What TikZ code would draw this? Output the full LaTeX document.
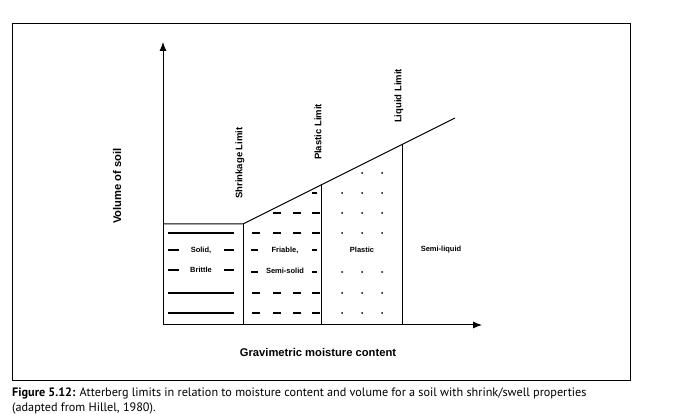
\documentclass[tikz,border=0pt]{standalone}
\usepackage{fontspec}
\usetikzlibrary{arrows.meta}
\setmainfont{Liberation Sans}
\newfontfamily\capfont{PT Sans}
\begin{document}
\begin{tikzpicture}[x=1pt,y=-1pt,
  lbl/.style={font=\bfseries\fontsize{7.5}{8}\selectfont,inner sep=1pt},
  rlbl/.style={font=\bfseries\fontsize{9.5}{10}\selectfont,inner sep=1pt,rotate=90},
  axlbl/.style={font=\bfseries\fontsize{11.2}{13}\selectfont},
  ln/.style={line width=1pt},
  arr/.style={-{Latex[length=9pt,width=7pt]}},
  dsh/.style={line width=1.1pt}]
\useasboundingbox (0,0) rectangle (694,414);
\draw[line width=1pt] (12,24) rectangle (630,380);
\coordinate (O) at (163,325);
\coordinate (Ytop) at (163,42);
\coordinate (Xend) at (482,325);
\draw[ln,arr] (O) -- (Ytop);
\draw[ln,arr] (O) -- (Xend);
\coordinate (A) at (243,224);
\coordinate (B) at (455,118);
\draw[ln] (163,224) -- (A) -- (B);
\draw[ln] (A) -- (243,325);
\draw[ln] (321,185) -- (321,325);
\draw[ln] (402,144.5) -- (402,325);
% solid lines
\foreach \yy in {233,293,313} {\draw[dsh] (168,\yy) -- (234,\yy);}
\foreach \yy in {250,270} {\draw[dsh] (168,\yy) -- (179,\yy); \draw[dsh] (224,\yy) -- (234,\yy);}
% friable dashes
\foreach \yy in {233,293,313} {
  \foreach \xx in {252,273,293,312} {\draw[dsh] (\xx,\yy) -- (\xx+8,\yy);}}
\foreach \xx in {273,293,312} {\draw[dsh] (\xx,213) -- (\xx+8,213);}
\draw[dsh] (312,193) -- (317,193);
\foreach \yy in {250,272} {\draw[dsh] (251,\yy) -- (258,\yy); \draw[dsh] (312,\yy) -- (317,\yy);}
% dots
\foreach \yy in {193,213,233,272,293,313} {
  \foreach \xx in {342,362,382} {\fill (\xx,\yy) circle (1);}}
\foreach \xx in {362,382} {\fill (\xx,173) circle (1);}
\node[lbl] (s1) at (201,250) {Solid,};
\node[lbl] (s2) at (201,270) {Brittle};
\node[lbl] (f1) at (285,250) {Friable,};
\node[lbl] (f2) at (285,271) {Semi-solid};
\node[lbl] (pl) at (362,250) {Plastic};
\node[lbl] (sl) at (441,250) {Semi-liquid};
\node[rlbl] (sh) at (240,163) {Shrinkage Limit};
\node[rlbl] (pll) at (318,132) {Plastic Limit};
\node[rlbl] (ll) at (399,96) {Liquid Limit};
\node[axlbl,rotate=90] (vs) at (117,186) {Volume of soil};
\node[axlbl] (gm) at (318,352) {Gravimetric moisture content};
\node[anchor=west,inner sep=0,font=\capfont\fontsize{12.2}{14}\selectfont] (c1) at (12,393) {\textbf{Figure 5.12:} Atterberg limits in relation to moisture content and volume for a soil with shrink/swell properties};
\node[anchor=west,inner sep=0,font=\capfont\fontsize{12.2}{14}\selectfont] (c2) at (12,408) {(adapted from Hillel, 1980).};
\end{tikzpicture}
\end{document}
